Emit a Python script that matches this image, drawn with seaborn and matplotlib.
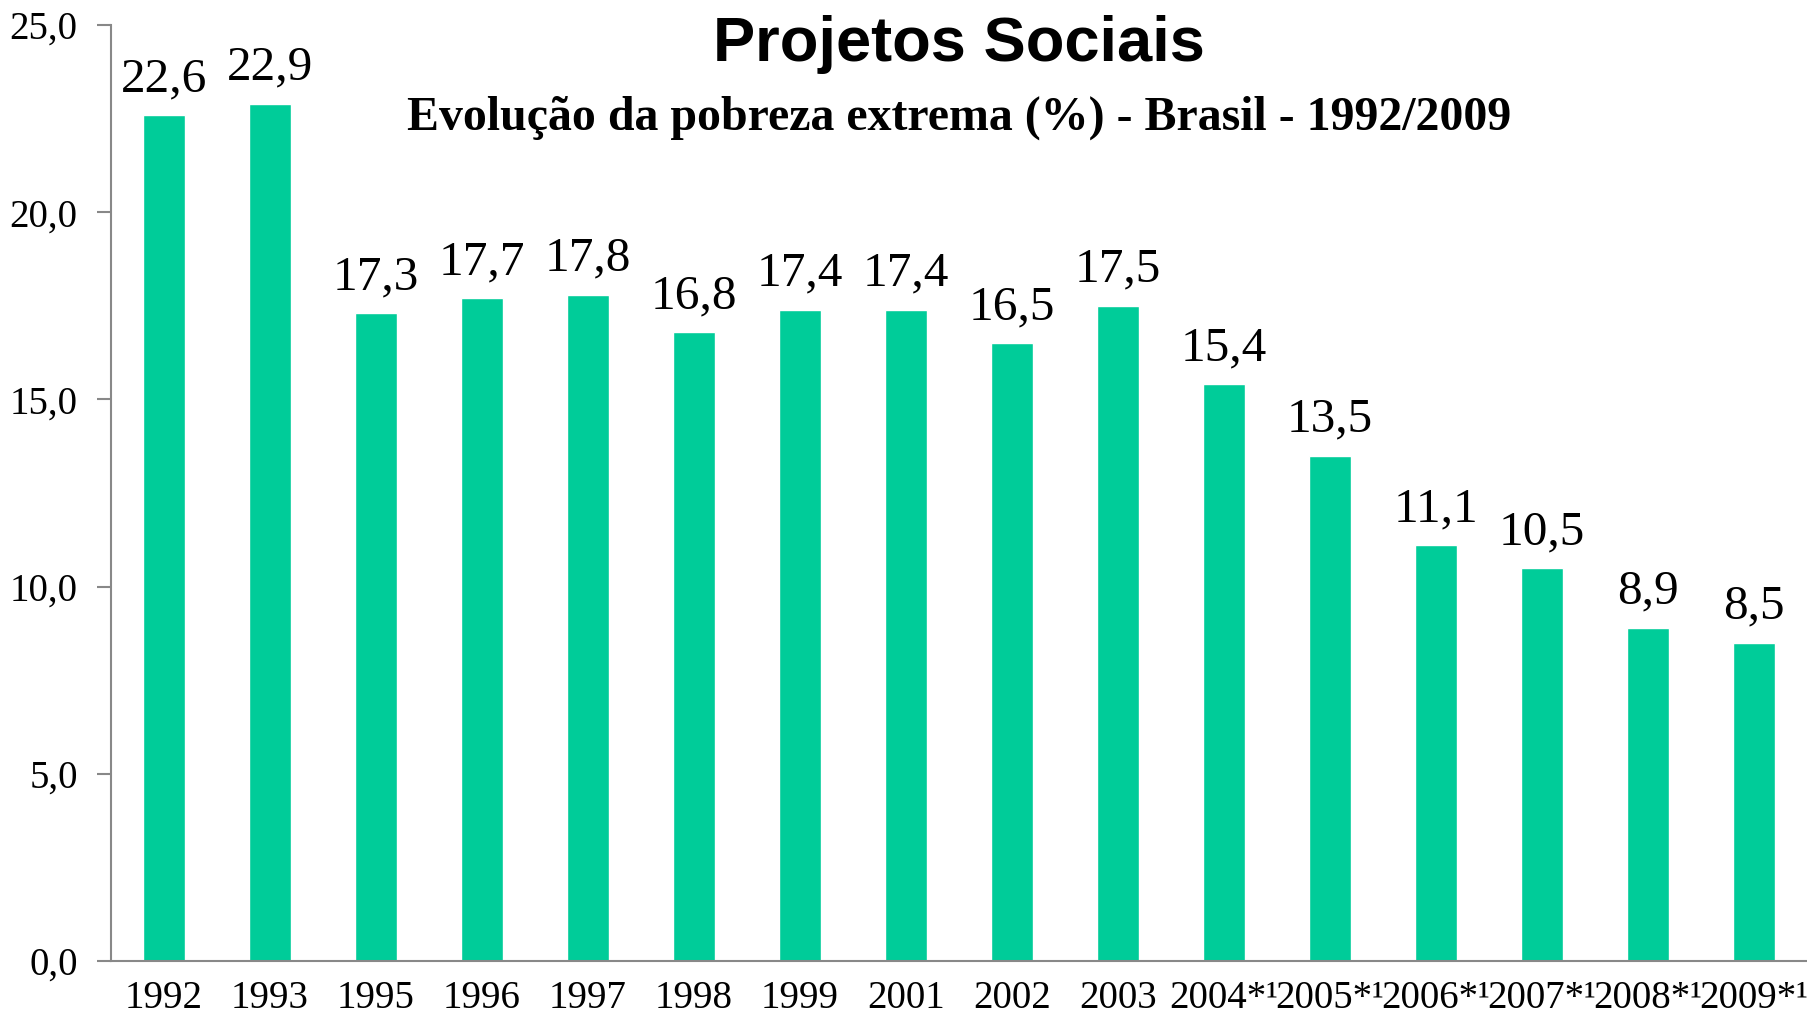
import matplotlib
matplotlib.use('Agg')
import matplotlib.pyplot as plt
import seaborn as sns
import pandas as pd
import numpy as np
from matplotlib.ticker import FuncFormatter, FixedLocator

# data
anos = ['1992', '1993', '1995', '1996', '1997', '1998', '1999', '2001', '2002', '2003',
        '2004*¹', '2005*¹', '2006*¹', '2007*¹', '2008*¹', '2009*¹']
pobreza = [22.6, 22.9, 17.3, 17.7, 17.8, 16.8, 17.4, 17.4, 16.5, 17.5,
           15.4, 13.5, 11.1, 10.5, 8.9, 8.5]

df = pd.DataFrame({'ano': anos, 'pobreza': pobreza})

sns.set_style('white')
plt.rcParams['font.family'] = ['Liberation Serif', 'DejaVu Serif']
plt.rcParams['text.color'] = 'black'
plt.rcParams['xtick.labelcolor'] = 'black'
plt.rcParams['ytick.labelcolor'] = 'black'

fig = plt.figure(figsize=(18.08, 10.22), dpi=100)
ax = fig.add_axes([0.0614, 0.0597, 0.9381, 0.9158])

sns.barplot(data=df, x='ano', y='pobreza', color='#00CC99', width=0.4,
            saturation=1, ax=ax)

# value labels with comma decimal
for cont in ax.containers:
    ax.bar_label(cont, labels=[f'{v:.1f}'.replace('.', ',') for v in pobreza],
                 padding=10, fontsize=35.5, color='black')

ax.set_ylim(0, 25)
ax.set_xlim(-0.5, len(anos) - 0.5)
ax.set_yticks(np.arange(0, 26, 5))
ax.yaxis.set_major_formatter(FuncFormatter(lambda v, p: f'{v:.1f}'.replace('.', ',')))
ax.set_xlabel('')
ax.set_ylabel('')

# excel style tick marks between categories
ax.xaxis.set_minor_locator(FixedLocator(np.arange(-0.5, len(anos), 1)))
ax.tick_params(axis='x', which='major', length=0, labelsize=28, pad=14)
ax.tick_params(axis='x', which='minor', length=10, width=1.5, color='#888888', direction='out')
ax.tick_params(axis='y', length=10, width=1.5, color='#888888', direction='out',
               labelsize=28, pad=14, left=True)

for s in ['top', 'right']:
    ax.spines[s].set_visible(False)
for s in ['left', 'bottom']:
    ax.spines[s].set_color('#888888')
    ax.spines[s].set_linewidth(1.5)

fig.text(0.5305, 0.94, 'Projetos Sociais', ha='center', va='baseline',
         fontsize=45.5, fontweight='bold', family='Liberation Sans')
fig.text(0.5305, 0.873, 'Evolução da pobreza extrema (%) - Brasil - 1992/2009',
         ha='center', va='baseline', fontsize=34.5, fontweight='bold')

fig.savefig('out.png', dpi=100)
